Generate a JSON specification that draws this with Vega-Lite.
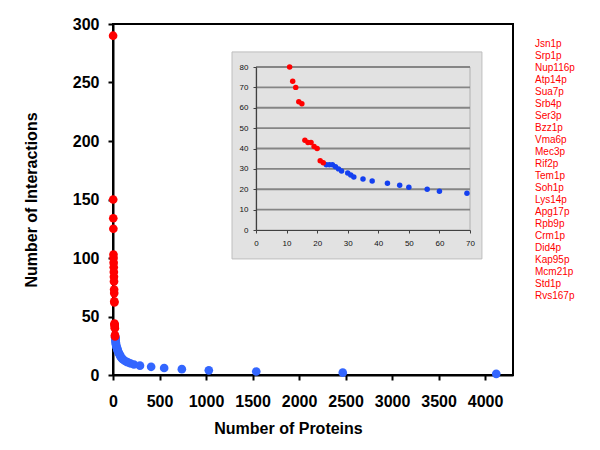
{
  "$schema": "https://vega.github.io/schema/vega-lite/v6.json",
  "width": 400,
  "height": 351,
  "autosize": {"type": "none"},
  "padding": {"left": 113, "top": 24, "right": 87, "bottom": 75},
  "background": "white",
  "config": {
    "font": "Liberation Sans",
    "view": {"stroke": "black", "strokeWidth": 2},
    "axis": {"labelFont": "Liberation Sans", "titleFont": "Liberation Sans"},
    "legend": {"labelFont": "Liberation Sans"}
  },
  "datasets": {
    "red": [
      {"rank": 1, "interactions": 290, "protein": "Jsn1p"},
      {"rank": 2, "interactions": 150, "protein": "Srp1p"},
      {"rank": 3, "interactions": 134, "protein": "Nup116p"},
      {"rank": 4, "interactions": 125, "protein": "Atp14p"},
      {"rank": 5, "interactions": 103, "protein": "Sua7p"},
      {"rank": 6, "interactions": 100, "protein": "Srb4p"},
      {"rank": 7, "interactions": 96, "protein": "Ser3p"},
      {"rank": 8, "interactions": 92, "protein": "Bzz1p"},
      {"rank": 9, "interactions": 88, "protein": "Vma6p"},
      {"rank": 10, "interactions": 84, "protein": "Mec3p"},
      {"rank": 11, "interactions": 80, "protein": "Rif2p"},
      {"rank": 12, "interactions": 73, "protein": "Tem1p"},
      {"rank": 13, "interactions": 70, "protein": "Soh1p"},
      {"rank": 14, "interactions": 63, "protein": "Lys14p"},
      {"rank": 15, "interactions": 62, "protein": "Apg17p"},
      {"rank": 16, "interactions": 44, "protein": "Rpb9p"},
      {"rank": 17, "interactions": 43, "protein": "Crm1p"},
      {"rank": 18, "interactions": 43, "protein": "Did4p"},
      {"rank": 19, "interactions": 41, "protein": "Kap95p"},
      {"rank": 20, "interactions": 40, "protein": "Mcm21p"},
      {"rank": 21, "interactions": 34, "protein": "Std1p"},
      {"rank": 22, "interactions": 33, "protein": "Rvs167p"}
    ],
    "blue": [
      {"rank": 23, "interactions": 32},
      {"rank": 24, "interactions": 32},
      {"rank": 25, "interactions": 32},
      {"rank": 26, "interactions": 31},
      {"rank": 27, "interactions": 30},
      {"rank": 28, "interactions": 29},
      {"rank": 30, "interactions": 28},
      {"rank": 31, "interactions": 27},
      {"rank": 32, "interactions": 26},
      {"rank": 35, "interactions": 25},
      {"rank": 38, "interactions": 24},
      {"rank": 43, "interactions": 23},
      {"rank": 47, "interactions": 22},
      {"rank": 50, "interactions": 21},
      {"rank": 56, "interactions": 20},
      {"rank": 60, "interactions": 19},
      {"rank": 69, "interactions": 18},
      {"rank": 74, "interactions": 17},
      {"rank": 80, "interactions": 16},
      {"rank": 88, "interactions": 15},
      {"rank": 98, "interactions": 14},
      {"rank": 112, "interactions": 13},
      {"rank": 130, "interactions": 12},
      {"rank": 155, "interactions": 11},
      {"rank": 185, "interactions": 10},
      {"rank": 225, "interactions": 9},
      {"rank": 290, "interactions": 8},
      {"rank": 410, "interactions": 7},
      {"rank": 550, "interactions": 6},
      {"rank": 740, "interactions": 5},
      {"rank": 1030, "interactions": 4},
      {"rank": 1540, "interactions": 3},
      {"rank": 2470, "interactions": 2},
      {"rank": 4120, "interactions": 1}
    ],
    "insetGrid": [
      {"v": 10}, {"v": 20}, {"v": 30}, {"v": 40}, {"v": 50}, {"v": 60}, {"v": 70}, {"v": 80}
    ],
    "one": [{}]
  },
  "layer": [
    {
      "data": {"name": "blue"},
      "mark": {"type": "circle", "size": 75, "opacity": 1, "color": "#3366FF"},
      "encoding": {
        "x": {
          "field": "rank", "type": "quantitative",
          "scale": {"domain": [0, 4300], "nice": false},
          "axis": {
            "orient": "bottom", "values": [0, 500, 1000, 1500, 2000, 2500, 3000, 3500, 4000], "format": "d",
            "title": "Number of Proteins", "titleFontSize": 16, "titleFontWeight": "bold", "titleColor": "black",
            "titlePadding": 11, "titleX": 175,
            "labelFontSize": 16, "labelFontWeight": "bold", "labelColor": "black", "labelPadding": 13,
            "labelFlush": false, "labelOverlap": false,
            "tickSize": 5, "tickWidth": 2, "tickColor": "black",
            "domainColor": "black", "domainWidth": 2, "grid": false
          }
        },
        "y": {
          "field": "interactions", "type": "quantitative",
          "scale": {"domain": [0, 300], "nice": false},
          "axis": {
            "orient": "left", "values": [0, 50, 100, 150, 200, 250, 300], "format": "d",
            "title": "Number of Interactions", "titleFontSize": 16, "titleFontWeight": "bold", "titleColor": "black",
            "titlePadding": 33,
            "labelFontSize": 16, "labelFontWeight": "bold", "labelColor": "black", "labelPadding": 9,
            "labelFlush": false, "labelOverlap": false,
            "tickSize": 5, "tickWidth": 2, "tickColor": "black",
            "domainColor": "black", "domainWidth": 2, "grid": false
          }
        }
      }
    },
    {
      "data": {"name": "red"},
      "mark": {"type": "circle", "size": 75, "opacity": 1},
      "encoding": {
        "x": {"field": "rank", "type": "quantitative", "scale": {"domain": [0, 4300], "nice": false}, "axis": null},
        "y": {"field": "interactions", "type": "quantitative", "scale": {"domain": [0, 300], "nice": false}, "axis": null},
        "color": {
          "field": "protein", "type": "nominal",
          "scale": {
            "domain": ["Jsn1p", "Srp1p", "Nup116p", "Atp14p", "Sua7p", "Srb4p", "Ser3p", "Bzz1p", "Vma6p", "Mec3p", "Rif2p", "Tem1p", "Soh1p", "Lys14p", "Apg17p", "Rpb9p", "Crm1p", "Did4p", "Kap95p", "Mcm21p", "Std1p", "Rvs167p"],
            "range": ["#FF0000", "#FF0000", "#FF0000", "#FF0000", "#FF0000", "#FF0000", "#FF0000", "#FF0000", "#FF0000", "#FF0000", "#FF0000", "#FF0000", "#FF0000", "#FF0000", "#FF0000", "#FF0000", "#FF0000", "#FF0000", "#FF0000", "#FF0000", "#FF0000", "#FF0000"]
          },
          "legend": {
            "title": null, "orient": "none", "legendX": 412, "legendY": 15,
            "symbolSize": 0, "symbolOpacity": 0, "symbolStrokeWidth": 0,
            "labelFontSize": 10, "labelColor": "#FF0000", "labelOffset": 0,
            "rowPadding": 2, "padding": 0, "labelLimit": 120
          }
        }
      }
    },
    {
      "data": {"name": "one"},
      "mark": {"type": "rect", "fill": "#E2E2E2", "stroke": "#BEBEBE", "strokeWidth": 1},
      "encoding": {
        "x": {"datum": -7.85, "type": "quantitative", "scale": {"domain": [0, 70], "range": [143, 357], "nice": false, "zero": false}, "axis": null},
        "x2": {"datum": 73.9},
        "y": {"datum": -14.2, "type": "quantitative", "scale": {"domain": [0, 80], "range": [206, 43], "nice": false, "zero": false}, "axis": null},
        "y2": {"datum": 87.4}
      }
    },
    {
      "data": {"name": "one"},
      "mark": {"type": "rect", "filled": false, "stroke": "#B0B0B0", "strokeWidth": 1},
      "encoding": {
        "x": {"datum": 0, "type": "quantitative", "scale": {"domain": [0, 70], "range": [143, 357], "nice": false, "zero": false}, "axis": null},
        "x2": {"datum": 70},
        "y": {"datum": 0, "type": "quantitative", "scale": {"domain": [0, 80], "range": [206, 43], "nice": false, "zero": false}, "axis": null},
        "y2": {"datum": 80}
      }
    },
    {
      "data": {"name": "insetGrid"},
      "mark": {"type": "rule", "color": "#858585", "strokeWidth": 1.8},
      "encoding": {
        "x": {"datum": 0, "type": "quantitative", "scale": {"domain": [0, 70], "range": [143, 357], "nice": false, "zero": false}, "axis": null},
        "x2": {"datum": 70},
        "y": {"field": "v", "type": "quantitative", "scale": {"domain": [0, 80], "range": [206, 43], "nice": false, "zero": false}, "axis": null}
      }
    },
    {
      "data": {"name": "blue"},
      "transform": [{"filter": "datum.rank <= 70"}],
      "mark": {"type": "circle", "size": 30, "opacity": 1, "color": "#1440F0"},
      "encoding": {
        "x": {
          "field": "rank", "type": "quantitative",
          "scale": {"domain": [0, 70], "range": [143, 357], "nice": false, "zero": false},
          "axis": {
            "orient": "bottom", "offset": -145, "zindex": 1, "values": [0, 10, 20, 30, 40, 50, 60, 70], "title": null,
            "labelFontSize": 8, "labelColor": "#111111", "labelPadding": 6, "labelFlush": false, "labelOverlap": false,
            "tickSize": 3, "tickColor": "#404040", "tickWidth": 1, "domainColor": "#404040", "domainWidth": 1.2, "grid": false
          }
        },
        "y": {
          "field": "interactions", "type": "quantitative",
          "scale": {"domain": [0, 80], "range": [206, 43], "nice": false, "zero": false},
          "axis": {
            "orient": "left", "offset": -143, "zindex": 1, "values": [0, 10, 20, 30, 40, 50, 60, 70, 80], "title": null,
            "labelFontSize": 8, "labelColor": "#111111", "labelPadding": 5, "labelFlush": false, "labelOverlap": false,
            "tickSize": 3, "tickColor": "#404040", "tickWidth": 1, "domainColor": "#404040", "domainWidth": 1.2, "grid": false
          }
        }
      }
    },
    {
      "data": {"name": "red"},
      "transform": [{"filter": "datum.interactions <= 80"}],
      "mark": {"type": "circle", "size": 30, "opacity": 1, "color": "#FF0000"},
      "encoding": {
        "x": {"field": "rank", "type": "quantitative", "scale": {"domain": [0, 70], "range": [143, 357], "nice": false, "zero": false}, "axis": null},
        "y": {"field": "interactions", "type": "quantitative", "scale": {"domain": [0, 80], "range": [206, 43], "nice": false, "zero": false}, "axis": null}
      }
    }
  ],
  "resolve": {"scale": {"x": "independent", "y": "independent"}}
}
